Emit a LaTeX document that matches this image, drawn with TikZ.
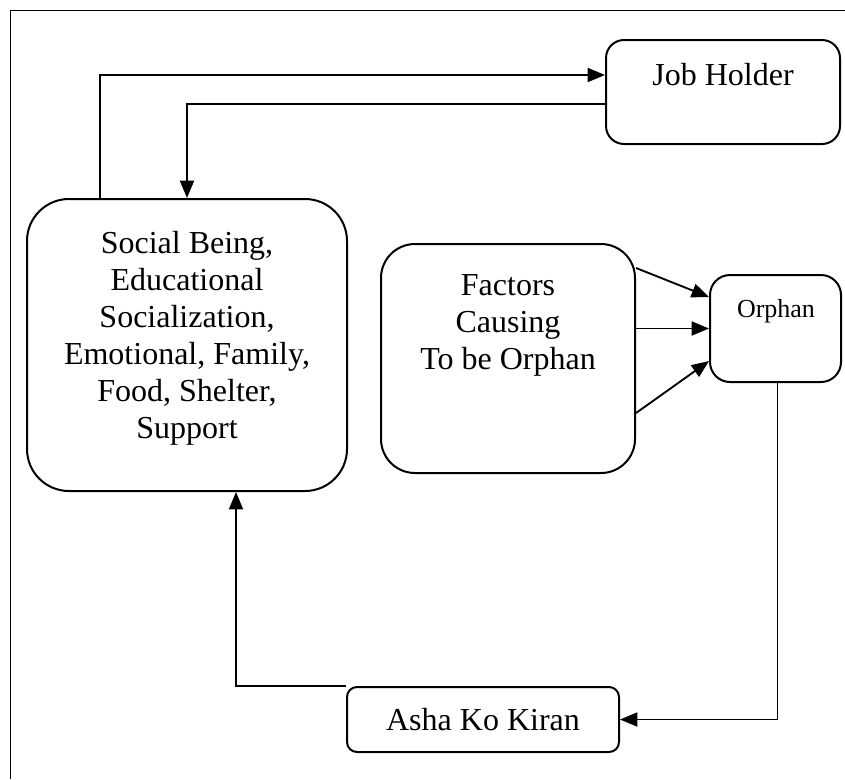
\documentclass[tikz,border=0pt]{standalone}
\usepackage{fontspec}
\setmainfont{Liberation Serif}
\usetikzlibrary{arrows.meta}
\begin{document}
\begin{tikzpicture}[x=0.75pt,y=-0.75pt,
  box/.style={draw,line width=1.5pt,inner sep=0pt},
  conn/.style={line width=1.4pt},
  arr/.style={conn,-{Triangle[length=13pt,width=10.5pt]}},
  big/.style={font=\fontsize{24}{27.75}\selectfont},
  small/.style={font=\fontsize{19.5}{22}\selectfont}]
\useasboundingbox (0,0) rectangle (845,779);
% frame
\draw[line width=1.1pt] (10.5,779) -- (10.5,10.5) -- (845,10.5);
% boxes
\node[box,rounded corners=13.5pt,minimum width=175.5pt,minimum height=78pt] (Job) at (723,92) {};
\node[box,rounded corners=31.5pt,minimum width=240pt,minimum height=219pt] (Social) at (187,345) {};
\node[box,rounded corners=25.5pt,minimum width=190.5pt,minimum height=171.75pt] (Factors) at (508,358.5) {};
\node[box,rounded corners=15pt,minimum width=98.25pt,minimum height=80.25pt] (Orphan) at (775.5,328.5) {};
\node[box,rounded corners=7.5pt,minimum width=204pt,minimum height=48.75pt,big] (Asha) at (483,719.5) {Asha Ko Kiran};
% texts (base anchor of a multi-line node is its last baseline)
\node[big,anchor=base,inner sep=0pt] (jobt) at (723,85) {Job Holder};
\node[big,anchor=base,align=center,inner sep=0pt] (socialt) at (187,438) {Social Being,\\Educational\\Socialization,\\Emotional, Family,\\Food, Shelter,\\Support};
\node[big,anchor=base,align=center,inner sep=0pt] (factorst) at (508,369) {Factors\\Causing\\To be Orphan};
\node[small,anchor=base,inner sep=0pt] (orphant) at (776,317) {Orphan};
% connectors
\coordinate (t1) at (100,75);
\coordinate (t2) at (187,104);
\coordinate (s1) at (236,686);
\draw[arr] (Social.north -| t1) -- (t1) -- (Job.west |- t1);
\draw[arr] (Job.west |- t2) -- (t2) -- (Social.north);
\draw[arr] ([yshift=67.9pt]Factors.east) -- ([yshift=23.6pt]Orphan.west);
\draw[arr] (Factors.east |- Orphan.west) -- (Orphan.west);
\draw[arr] ([yshift=-40.9pt]Factors.east) -- ([yshift=-24.4pt]Orphan.west);
\draw[arr] ([xshift=1.5pt]Orphan.south) |- (Asha.east);
\draw[arr] (Asha.north west) -- (s1) -- (Social.south -| s1);
\end{tikzpicture}
\end{document}
